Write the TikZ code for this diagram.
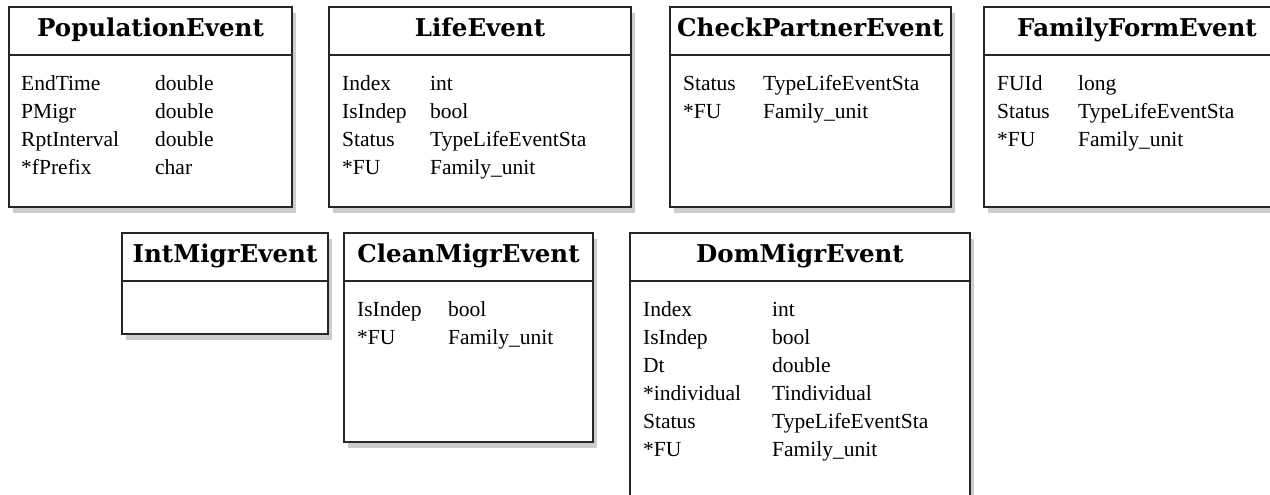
\documentclass[tikz,border=0pt]{standalone}
\usepackage{fontspec}
\setmainfont{Liberation Serif}
\newfontfamily\headfont{DejaVu Serif}
\usetikzlibrary{positioning,shadows}

\begin{document}
\begin{tikzpicture}[
x=1pt, y=-1pt,
classtitle/.style={rectangle, draw=black!85, line width=1.3pt, fill=white, outer sep=0pt, inner sep=0pt, minimum height=48pt, text height=18.5pt, text depth=7.5pt, font=\headfont\bfseries\fontsize{24.5}{28}\selectfont, drop shadow={shadow xshift=4pt, shadow yshift=-6pt, fill=black!40, opacity=0.5}},
classbody/.style={rectangle, draw=black!85, line width=1.3pt, fill=white, outer sep=0pt, inner sep=0pt, drop shadow={shadow xshift=4pt, shadow yshift=-6pt, fill=black!40, opacity=0.5}},
fieldtext/.style={inner sep=0pt, font=\fontsize{21.5}{28}\selectfont},
]

\clip (0,0) rectangle (1270,495);

\node[classtitle, minimum width=283pt, anchor=north west] (popT) at (9,7) {PopulationEvent};
\node[classbody, minimum width=283pt, minimum height=152pt, below=0pt of popT] (popB) {};
\node[fieldtext, below right=16pt and 12pt of popB.north west] (popF) {\begin{tabular}{@{}p{134pt}@{}l@{}}
EndTime & double\\ PMigr & double\\ RptInterval & double\\ {*}fPrefix & char
\end{tabular}};

\node[classtitle, minimum width=302pt, right=37pt of popT] (lifeT) {LifeEvent};
\node[classbody, minimum width=302pt, minimum height=152pt, below=0pt of lifeT] (lifeB) {};
\node[fieldtext, below right=16pt and 13pt of lifeB.north west] (lifeF) {\begin{tabular}{@{}p{88pt}@{}l@{}}
Index & int\\ IsIndep & bool\\ Status & TypeLifeEventSta\\ {*}FU & Family\_unit
\end{tabular}};

\node[classtitle, minimum width=281pt, right=39pt of lifeT] (checkT) {CheckPartnerEvent};
\node[classbody, minimum width=281pt, minimum height=152pt, below=0pt of checkT] (checkB) {};
\node[fieldtext, below right=16pt and 13pt of checkB.north west] (checkF) {\begin{tabular}{@{}p{80pt}@{}l@{}}
Status & TypeLifeEventSta\\ {*}FU & Family\_unit
\end{tabular}};

\node[classtitle, minimum width=306pt, right=33pt of checkT] (famT) {FamilyFormEvent};
\node[classbody, minimum width=306pt, minimum height=152pt, below=0pt of famT] (famB) {};
\node[fieldtext, below right=16pt and 13pt of famB.north west] (famF) {\begin{tabular}{@{}p{81pt}@{}l@{}}
FUId & long\\ Status & TypeLifeEventSta\\ {*}FU & Family\_unit
\end{tabular}};

\node[classtitle, minimum width=206pt, anchor=north west] (intT) at (122,233) {IntMigrEvent};
\node[classbody, minimum width=206pt, minimum height=53pt, below=0pt of intT] (intB) {};

\node[classtitle, minimum width=249pt, right=16pt of intT] (cleanT) {CleanMigrEvent};
\node[classbody, minimum width=249pt, minimum height=161pt, below=0pt of cleanT] (cleanB) {};
\node[fieldtext, below right=16pt and 13pt of cleanB.north west] (cleanF) {\begin{tabular}{@{}p{91pt}@{}l@{}}
IsIndep & bool\\ {*}FU & Family\_unit
\end{tabular}};

\node[classtitle, minimum width=340pt, right=37pt of cleanT] (domT) {DomMigrEvent};
\node[classbody, minimum width=340pt, minimum height=240pt, below=0pt of domT] (domB) {};
\node[fieldtext, below right=16pt and 13pt of domB.north west] (domF) {\begin{tabular}{@{}p{129pt}@{}l@{}}
Index & int\\ IsIndep & bool\\ Dt & double\\ {*}individual & Tindividual\\ Status & TypeLifeEventSta\\ {*}FU & Family\_unit
\end{tabular}};

\end{tikzpicture}
\end{document}
